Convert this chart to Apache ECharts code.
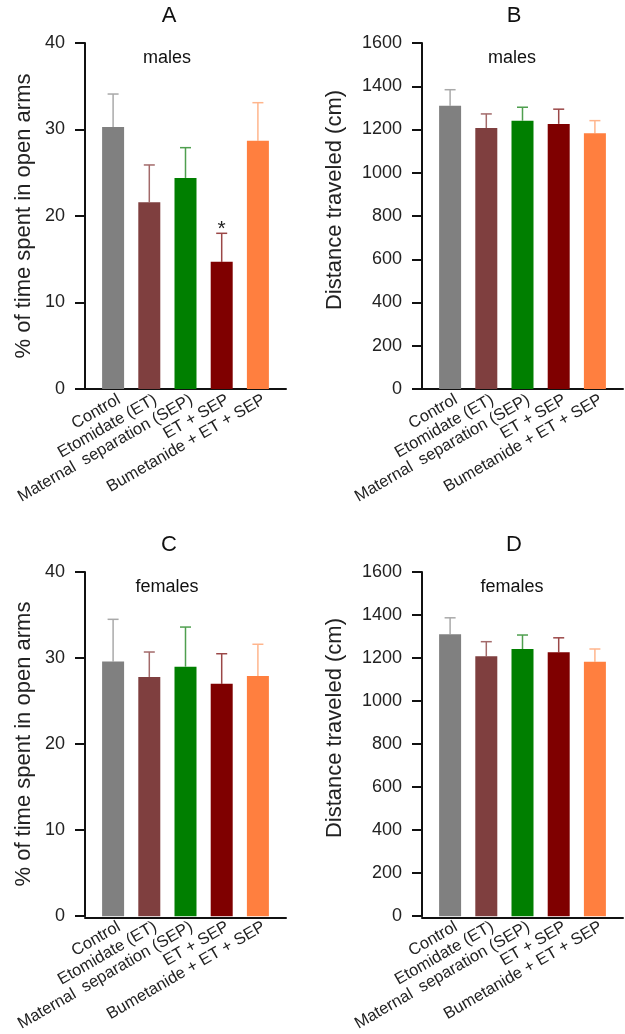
<!DOCTYPE html>
<html>
<head>
<meta charset="utf-8">
<script src="https://cdn.jsdelivr.net/npm/echarts@6/dist/echarts.min.js"></script>
<style>
html,body{margin:0;padding:0;background:#fff;}
#main{width:625px;height:1034px;}
</style>
</head>
<body>
<div id="main"></div>
<script>
var groups = ['Control', 'Etomidate (ET)', 'Maternal  separation (SEP)', 'ET + SEP', 'Bumetanide + ET + SEP'];
var barColors = ['#808080', '#7f3f3f', '#007f00', '#7f0000', '#ff7f3f'];
var errColors = ['#a9a9a9', '#a36a6a', '#4f9f4f', '#9b4747', '#ffb58c'];

// A: males, % time in open arms
var openMales = [30.3, 21.6, 24.4, 14.7, 28.7];
var openMalesSem = [3.8, 4.3, 3.5, 3.3, 4.4];
var openMalesSig = ['', '', '', '*', ''];
// B: males, distance
var distMales = [1310, 1207, 1241, 1226, 1183];
var distMalesSem = [74, 65, 62, 68, 58];
// C: females, % time in open arms
var openFemales = [29.6, 27.8, 29.0, 27.0, 27.9];
var openFemalesSem = [4.9, 2.9, 4.6, 3.5, 3.7];
// D: females, distance
var distFemales = [1310, 1208, 1242, 1227, 1183];
var distFemalesSem = [77, 68, 65, 67, 59];

var openTicks = [0, 40, 10];
var distTicks = [0, 1600, 200];

var FONT = 'Liberation Sans, Arial, Helvetica, sans-serif';

var panels = [
    {letter: 'A', sex: 'males', left: 95, top: 43, cx: 167, ticks: openTicks, name: '% of time spent in open arms', nameGap: 50, nameShift: 0, mean: openMales, sem: openMalesSem, sig: openMalesSig},
    {letter: 'B', sex: 'males', left: 432, top: 43, cx: 512, ticks: distTicks, name: 'Distance traveled (cm)', nameGap: 76, nameShift: 16, mean: distMales, sem: distMalesSem, sig: null},
    {letter: 'C', sex: 'females', left: 95, top: 572, cx: 167, ticks: openTicks, name: '% of time spent in open arms', nameGap: 50, nameShift: 0, mean: openFemales, sem: openFemalesSem, sig: null},
    {letter: 'D', sex: 'females', left: 432, top: 572, cx: 512, ticks: distTicks, name: 'Distance traveled (cm)', nameGap: 76, nameShift: 16, mean: distFemales, sem: distFemalesSem, sig: null}
];

var PW = 181, PH = 346, PAD = 10;

function makeErrorRender(sig) {
    return function (params, api) {
        var i = api.value(0);
        var base = api.coord([i, api.value(1)]);
        var top = api.coord([i, api.value(2)]);
        var c = errColors[i];
        var kids = [
            {type: 'line', shape: {x1: base[0], y1: base[1], x2: top[0], y2: top[1]}, style: {stroke: c, lineWidth: 1.5}},
            {type: 'line', shape: {x1: top[0] - 5.5, y1: top[1], x2: top[0] + 5.5, y2: top[1]}, style: {stroke: c, lineWidth: 1.5}}
        ];
        if (sig && sig[i]) {
            kids.push({type: 'text', x: top[0], y: top[1] + 6,
                style: {text: sig[i], fontSize: 21, fontFamily: FONT, fill: '#222', align: 'center', verticalAlign: 'bottom'}});
        }
        return {type: 'group', children: kids};
    };
}

var grid = [], xAxis = [], yAxis = [], series = [], graphic = [];

panels.forEach(function (p, k) {
    var g = grid.length;
    grid.push({left: p.left, top: p.top, width: PW, height: PH});
    grid.push({left: p.left - PAD, top: p.top, width: PW + 2 * PAD, height: PH});

    xAxis.push({
        type: 'category', gridIndex: g, data: groups,
        axisLine: {show: false}, axisTick: {show: false},
        axisLabel: {interval: 0, rotate: 30, margin: 13, padding: [0, -7, 0, 0], fontSize: 16.5, fontFamily: FONT, color: '#222'}
    });
    yAxis.push({
        type: 'value', gridIndex: g, min: p.ticks[0], max: p.ticks[1], interval: p.ticks[2], offset: PAD,
        name: p.name, nameLocation: 'middle', nameGap: p.nameGap,
        nameTextStyle: {fontSize: 22, fontFamily: FONT, color: '#222', padding: [0, 0, 0, p.nameShift * 2]},
        axisLine: {show: true, lineStyle: {color: '#111', width: 2}},
        axisTick: {show: true, length: 10, lineStyle: {color: '#111', width: 2}},
        axisLabel: {fontSize: 18, fontFamily: FONT, color: '#222', margin: 20, formatter: function (v) { return String(v); }},
        splitLine: {show: false}
    });
    // long baseline that runs past the bars on both sides
    xAxis.push({
        type: 'value', gridIndex: g + 1, min: 0, max: 1,
        axisLine: {show: true, onZero: false, lineStyle: {color: '#111', width: 2}},
        axisTick: {show: false}, axisLabel: {show: false}, splitLine: {show: false}
    });
    yAxis.push({type: 'value', gridIndex: g + 1, min: 0, max: 1, show: false});

    series.push({
        type: 'bar', xAxisIndex: g, yAxisIndex: g, barWidth: 22,
        data: p.mean.map(function (v, i) { return {value: v, itemStyle: {color: barColors[i]}}; }),
        z: 2
    });
    series.push({
        type: 'custom', xAxisIndex: g, yAxisIndex: g,
        renderItem: makeErrorRender(p.sig),
        data: p.mean.map(function (v, i) { return [i, v, v + p.sem[i]]; }),
        z: 1
    });

    graphic.push({type: 'text', x: p.cx + 2, y: p.top - 38,
        style: {text: p.letter, fontSize: 22, fontFamily: FONT, fill: '#111', align: 'center', verticalAlign: 'top'}});
    graphic.push({type: 'text', x: p.cx, y: p.top + 6,
        style: {text: p.sex, fontSize: 18, fontFamily: FONT, fill: '#111', align: 'center', verticalAlign: 'top'}});
});

var chart = echarts.init(document.getElementById('main'));
chart.setOption({
    backgroundColor: '#fff',
    animation: false,
    grid: grid,
    xAxis: xAxis,
    yAxis: yAxis,
    series: series,
    graphic: graphic
});
</script>
</body>
</html>
